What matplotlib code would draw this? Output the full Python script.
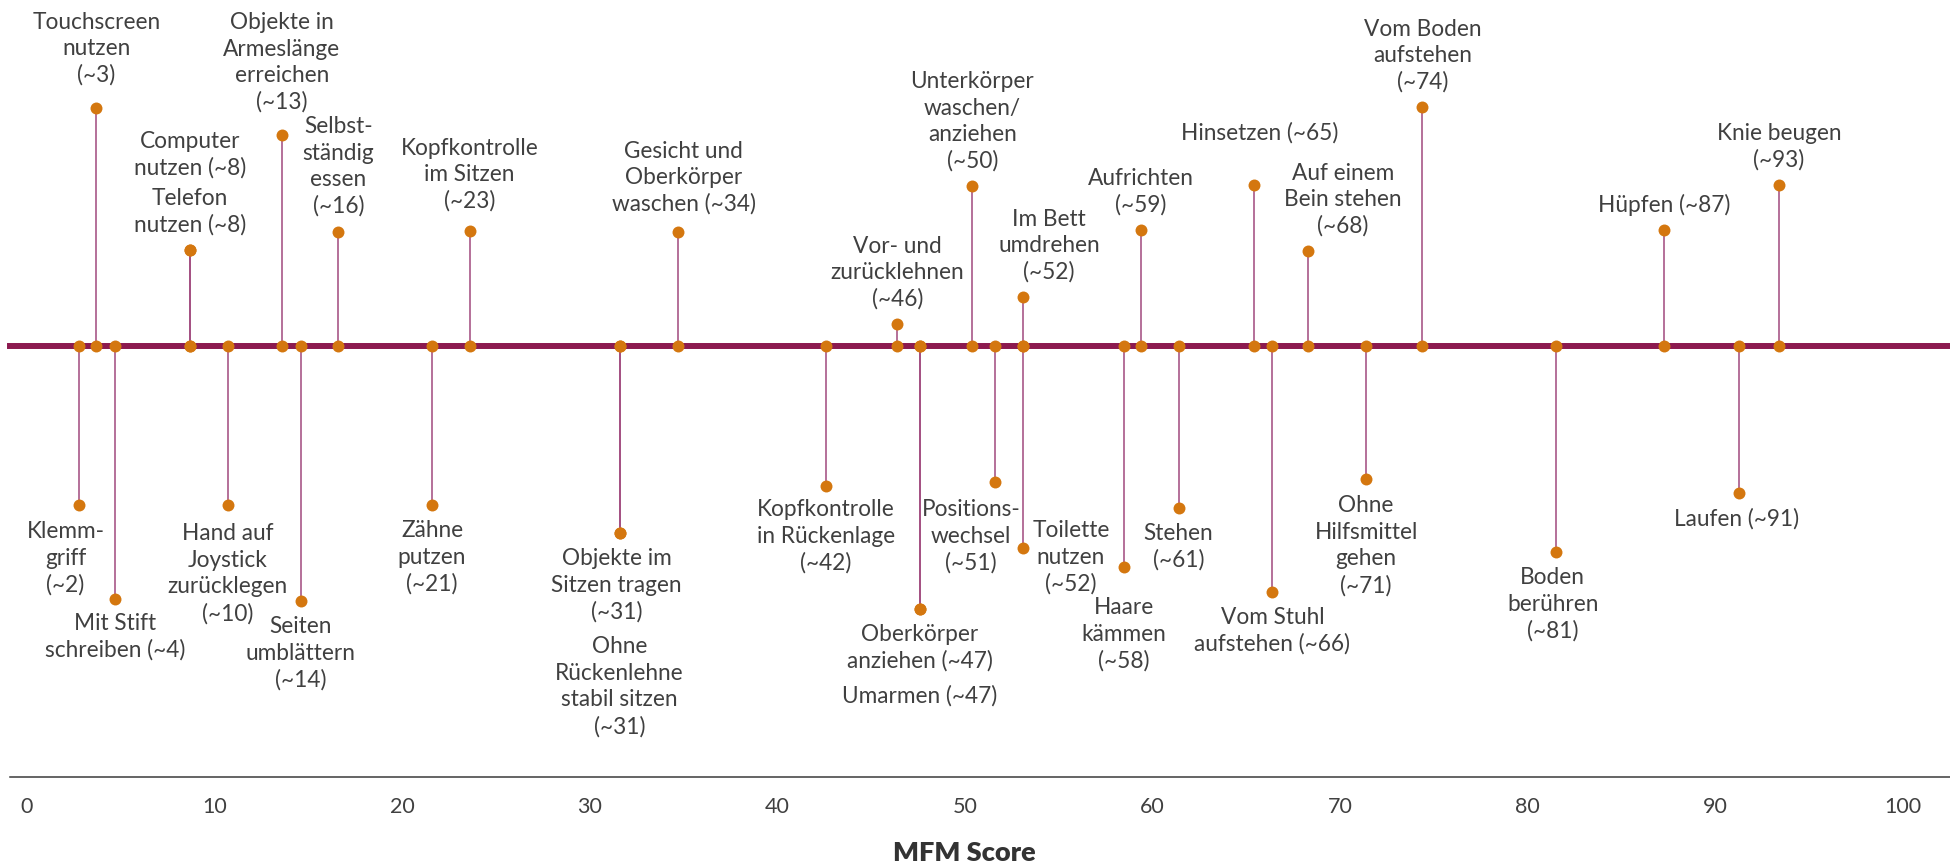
import matplotlib.pyplot as plt

plt.rcParams['font.family'] = ['Lato', 'DejaVu Sans']

# Motorische Meilensteine und der ungefähre MFM-Score
labels = [
    "Klemm-\ngriff\n(~2)",
    "Touchscreen\nnutzen\n(~3)",
    "Mit Stift\nschreiben (~4)",
    "Computer\nnutzen (~8)",
    "Telefon\nnutzen (~8)",
    "Hand auf\nJoystick\nzurücklegen\n(~10)",
    "Objekte in\nArmeslänge\nerreichen\n(~13)",
    "Seiten\numblättern\n(~14)",
    "Selbst-\nständig\nessen\n(~16)",
    "Zähne\nputzen\n(~21)",
    "Kopfkontrolle\nim Sitzen\n(~23)",
    "Objekte im\nSitzen tragen\n(~31)",
    "Ohne\nRückenlehne\nstabil sitzen\n(~31)",
    "Gesicht und\nOberkörper\nwaschen (~34)",
    "Kopfkontrolle\nin Rückenlage\n(~42)",
    "Vor- und\nzurücklehnen\n(~46)",
    "Oberkörper\nanziehen (~47)",
    "Umarmen (~47)",
    "Unterkörper\nwaschen/\nanziehen\n(~50)",
    "Positions-\nwechsel\n(~51)",
    "Im Bett\numdrehen\n(~52)",
    "Toilette\nnutzen\n(~52)",
    "Haare\nkämmen\n(~58)",
    "Aufrichten\n(~59)",
    "Stehen\n(~61)",
    "Hinsetzen (~65)",
    "Vom Stuhl\naufstehen (~66)",
    "Auf einem\nBein stehen\n(~68)",
    "Ohne\nHilfsmittel\ngehen\n(~71)",
    "Vom Boden\naufstehen\n(~74)",
    "Boden\nberühren\n(~81)",
    "Hüpfen (~87)",
    "Laufen (~91)",
    "Knie beugen\n(~93)",
]
scores = [2.8, 3.7, 4.7, 8.7, 8.7, 10.7, 13.6, 14.6, 16.6, 21.6, 23.6,
          31.6, 31.6, 34.7, 42.6, 46.4, 47.6, 47.6, 50.4, 51.6, 53.1, 53.1,
          58.5, 59.4, 61.4, 65.4, 66.4, 68.3, 71.4, 74.4, 81.5, 87.3, 91.3,
          93.4]
above = [False, True, False, True, True, False, True, False, True, False,
         True, False, False, True, False, True, False, False, True, False,
         True, False, False, True, False, True, False, True, False, True,
         False, True, False, True]

# layout (pixels from top): where each stem ends, gap to text, text shift
stem_end = [505, 108, 599, 250, 250, 505, 135, 601, 232, 505, 231,
            533, 533, 232, 486, 324, 609, 609, 186, 482, 297, 548,
            567, 230, 508, 185, 592, 251, 479, 107, 552, 230, 493, 185]
gap = [25, 34, 23, 83, 26, 27, 34, 24, 27, 24, 31,
       24, 112, 29, 22, 26, 24, 86, 26, 26, 26, -19,
       39, 26, 24, 53, 24, 26, 25, 26, 24, 26, 25, 26]
dx = [-14, 0, 0, 0, 0, 0, 0, 0, 0, 0, 0,
      -3, 0, 6, 0, 0, 0, 0, 0, -24, 26, 48,
      0, 0, 0, 6, 0, 35, 0, 0, -3, 0, -3, 0]

W, H = 1950, 863
AXIS_Y = 777      # bottom axis line
LINE_Y = 346      # timeline
X0, PPU = 26.9, 18.757
LS = 26.7         # line spacing of the labels

TEXT = '#404040'
ORANGE = '#D4770F'
PLUM = '#8C1A4F'
STEM = '#A0497D'

fig = plt.figure(figsize=(W / 100, H / 100), dpi=100)
ax = fig.add_axes([0, (H - AXIS_Y) / H, 1, AXIS_Y / H])
ax.set_xlim(-X0 / PPU, (W - X0) / PPU)
ax.set_ylim(AXIS_Y, 0)

ax.axhline(LINE_Y, xmin=10 / W, color=PLUM, lw=4.3, zorder=2)
ax.vlines(scores, LINE_Y, stem_end, color=STEM, lw=1.1, zorder=1)
ax.plot(scores, [LINE_Y] * len(scores), 'o', color=ORANGE, ms=8.6,
        mec='none', zorder=3)
ax.plot(scores, stem_end, 'o', color=ORANGE, ms=8.6, mec='none', zorder=3)

for lab, s, up, ye, g, d in zip(labels, scores, above, stem_end, gap, dx):
    lines = lab.split('\n')
    n = len(lines)
    for i, line in enumerate(lines):
        if up:
            yc = ye - g - (n - 1 - i) * LS
        else:
            yc = ye + g + i * LS
        ax.text(s + d / PPU, yc + 8, line, ha='center', va='baseline',
                fontsize=16.3, color=TEXT)

for side in ['top', 'left', 'right']:
    ax.spines[side].set_visible(False)
ax.spines['bottom'].set_color('#3a3a3a')
ax.spines['bottom'].set_linewidth(1.1)
ax.spines['bottom'].set_bounds((10 - X0) / PPU, (W - X0) / PPU)
ax.set_yticks([])
ax.set_xticks(range(0, 101, 10))
ax.tick_params(axis='x', length=0, pad=14.5, labelsize=15.5, labelcolor=TEXT)
ax.set_xlabel('MFM Score', fontsize=19.5, fontweight='heavy', color='#333333')
ax.xaxis.set_label_coords(964.5 / W, -(841 - AXIS_Y) / AXIS_Y)

fig.savefig('out.png', dpi=100)
